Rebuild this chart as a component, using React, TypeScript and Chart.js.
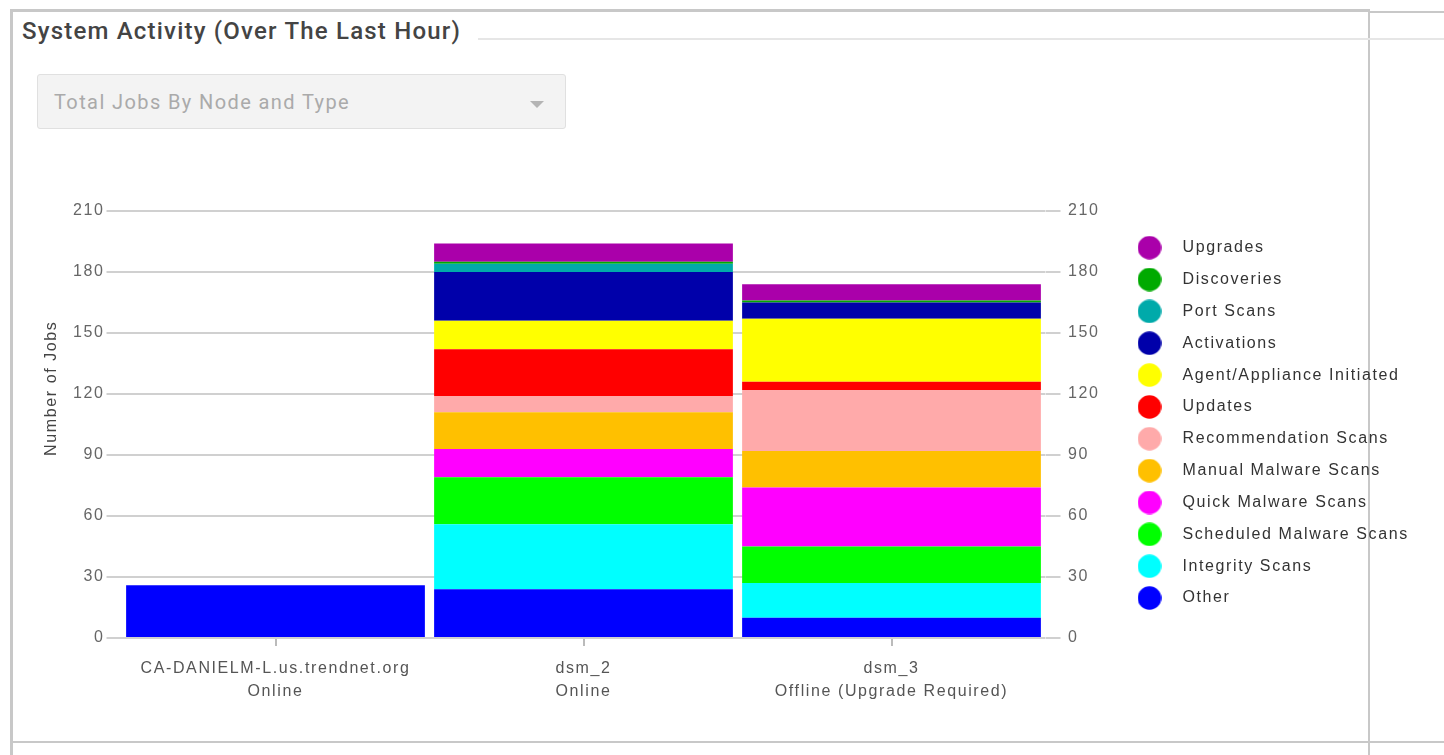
import React, { useEffect, useRef } from 'react';
import { Chart, registerables } from 'chart.js';

Chart.register(...registerables);

// ---- data ----
const nodeNames = ['CA-DANIELM-L.us.trendnet.org', 'dsm_2', 'dsm_3'];
const nodeStatus = ['Online', 'Online', 'Offline (Upgrade Required)'];

const other = [26, 24, 10];
const integrityScans = [0, 32, 17];
const scheduledMalwareScans = [0, 23, 18];
const quickMalwareScans = [0, 14, 29];
const manualMalwareScans = [0, 18, 18];
const recommendationScans = [0, 8, 30];
const updates = [0, 23, 4];
const agentApplianceInitiated = [0, 14, 31];
const activations = [0, 24, 8];
const portScans = [0, 4, 0];
const discoveries = [0, 1, 1];
const upgrades = [0, 9, 8];

const yMin = 0;
const yMax = 210;
const yStep = 30;

const seriesLabels = [
  'Other',
  'Integrity Scans',
  'Scheduled Malware Scans',
  'Quick Malware Scans',
  'Manual Malware Scans',
  'Recommendation Scans',
  'Updates',
  'Agent/Appliance Initiated',
  'Activations',
  'Port Scans',
  'Discoveries',
  'Upgrades',
];
const seriesValues = [
  other,
  integrityScans,
  scheduledMalwareScans,
  quickMalwareScans,
  manualMalwareScans,
  recommendationScans,
  updates,
  agentApplianceInitiated,
  activations,
  portScans,
  discoveries,
  upgrades,
];
const seriesColors = [
  '#0000ff',
  '#00ffff',
  '#00ff00',
  '#ff00ff',
  '#ffc000',
  '#ffaaaa',
  '#ff0000',
  '#ffff00',
  '#0000aa',
  '#00aaaa',
  '#00aa00',
  '#aa00aa',
];

const FONT = "'Liberation Sans', Arial, sans-serif";
const SPACING = '1.6px';

export default function App() {
  const ref = useRef<HTMLCanvasElement>(null);

  useEffect(() => {
    const canvas = ref.current;
    if (!canvas) return;

    // geometry targets
    const areaLeft = 121.5;
    const areaRight = 1045.5;
    const itemLeft = 1124.5;
    const pad = 15.85;
    const ptW = 50;
    const fontSize = 16;

    const m = document.createElement('canvas').getContext('2d') as any;
    m.font = `${fontSize}px ${FONT}`;
    m.letterSpacing = SPACING;
    const textW = Math.max(...seriesLabels.map((s) => m.measureText(s).width));
    const exact = itemLeft - pad + (pad + ptW + fontSize / 2 + textW + 10);
    const W = Math.ceil(exact);
    const H = 538;
    canvas.width = W;
    canvas.height = H;
    canvas.style.width = W + 'px';
    canvas.style.height = H + 'px';

    const dots = seriesColors.map((c) => {
      const d = document.createElement('canvas');
      d.width = 24;
      d.height = 24;
      const g = d.getContext('2d')!;
      g.fillStyle = c;
      g.beginPath();
      g.arc(12, 12, 11.8, 0, Math.PI * 2);
      g.fill();
      return d;
    });

    const spacingPlugin = {
      id: 'letterSpacing',
      beforeUpdate(chart: any) {
        chart.ctx.letterSpacing = SPACING;
      },
      beforeLayout(chart: any) {
        chart.ctx.letterSpacing = SPACING;
      },
      beforeDraw(chart: any) {
        chart.ctx.letterSpacing = SPACING;
      },
    };

    const gridColor = '#d0d0d0';

    const chart = new Chart(canvas, {
      type: 'bar',
      data: {
        labels: nodeNames.map((n, i) => [n, nodeStatus[i]]),
        datasets: seriesLabels.map((label, i) => ({
          label,
          data: seriesValues[i],
          backgroundColor: seriesColors[i],
          borderWidth: 0,
          categoryPercentage: 1,
          barPercentage: 0.97,
          yAxisID: 'y',
        })),
      },
      options: {
        responsive: false,
        animation: false,
        devicePixelRatio: 1,
        layout: { padding: { top: 31, left: 0, right: W - exact, bottom: 0 } },
        plugins: {
          tooltip: { enabled: false },
          legend: {
            position: 'right',
            align: 'start',
            fullSize: false,
            reverse: true,
            maxWidth: 500,
            title: {
              display: true,
              text: '',
              font: { size: 1, lineHeight: 1 },
              padding: { top: 11.85, bottom: 0 },
            },
            labels: {
              usePointStyle: true,
              pointStyleWidth: ptW,
              boxHeight: 16,
              padding: pad,
              color: '#333',
              font: { family: FONT, size: fontSize },
              generateLabels: (ch: any) =>
                ch.data.datasets.map((ds: any, i: number) => ({
                  text: ds.label,
                  fillStyle: ds.backgroundColor,
                  strokeStyle: ds.backgroundColor,
                  lineWidth: 0,
                  hidden: !ch.isDatasetVisible(i),
                  datasetIndex: i,
                  pointStyle: dots[i],
                  fontColor: '#333',
                })),
            },
          },
        },
        scales: {
          x: {
            stacked: true,
            border: { display: false },
            grid: {
              display: true,
              drawOnChartArea: false,
              offset: false,
              tickLength: 8,
              color: '#bbb',
              lineWidth: 2,
            },
            ticks: {
              color: '#555',
              font: { family: FONT, size: 16, lineHeight: 1.44 },
              padding: 11,
              maxRotation: 0,
              autoSkip: false,
            },
            afterFit: (s: any) => {
              s.height = 80;
            },
          },
          y: {
            stacked: true,
            position: 'left',
            min: yMin,
            max: yMax,
            border: { display: false },
            grid: { color: gridColor, lineWidth: 2, tickLength: 15 },
            ticks: {
              stepSize: yStep,
              color: '#666',
              padding: 2,
              font: { family: FONT, size: 16 },
            },
            title: {
              display: true,
              text: '            Number of Jobs',
              color: '#444',
              font: { family: FONT, size: 16 },
              padding: { top: 42.4, bottom: 0 },
            },
            afterFit: (s: any) => {
              s.width = areaLeft;
            },
          },
          y1: {
            position: 'right',
            min: yMin,
            max: yMax,
            border: { display: false },
            grid: { drawOnChartArea: false, color: gridColor, lineWidth: 2, tickLength: 15 },
            ticks: {
              stepSize: yStep,
              color: '#666',
              padding: 7.5,
              font: { family: FONT, size: 16 },
            },
            afterFit: (s: any) => {
              s.width = itemLeft - pad - areaRight;
            },
          },
        },
      },
      plugins: [spacingPlugin],
    } as any);

    return () => chart.destroy();
  }, []);

  const line = (l: number, t: number, w: number, h: number, c = '#c8c8c8') => (
    <div style={{ position: 'absolute', left: l, top: t, width: w, height: h, background: c }} />
  );

  return (
    <div
      style={{
        position: 'absolute',
        left: 0,
        top: 0,
        width: 1444,
        height: 755,
        overflow: 'hidden',
        background: '#fff',
        fontFamily: 'Roboto, sans-serif',
      }}
    >
      {line(10, 9, 1358, 3)}
      {line(1368, 11, 76, 2)}
      {line(10, 9, 3, 746)}
      {line(1368, 9, 2, 746)}
      {line(10, 741, 1434, 2)}
      {line(478, 38, 966, 2, '#e6e6e6')}
      <div
        style={{
          position: 'absolute',
          left: 22,
          top: 17,
          lineHeight: '28px',
          fontSize: 24,
          fontWeight: 500,
          letterSpacing: '1.2px',
          color: '#444',
          whiteSpace: 'nowrap',
        }}
      >
        System Activity (Over The Last Hour)
      </div>
      <div
        style={{
          position: 'absolute',
          left: 37,
          top: 74,
          width: 527,
          height: 53,
          border: '1px solid #e0e0e0',
          borderRadius: 3,
          background: '#f3f3f3',
        }}
      >
        <div
          style={{
            position: 'absolute',
            left: 16,
            top: 14,
            lineHeight: '26px',
            fontSize: 20,
            letterSpacing: '1.4px',
            color: '#aaa',
            whiteSpace: 'nowrap',
          }}
        >
          Total Jobs By Node and Type
        </div>
        <div
          style={{
            position: 'absolute',
            left: 492,
            top: 26,
            width: 0,
            height: 0,
            borderLeft: '7px solid transparent',
            borderRight: '7px solid transparent',
            borderTop: '7px solid #b4b4b4',
          }}
        />
      </div>
      <canvas ref={ref} style={{ position: 'absolute', left: 0, top: 180 }} />
    </div>
  );
}
